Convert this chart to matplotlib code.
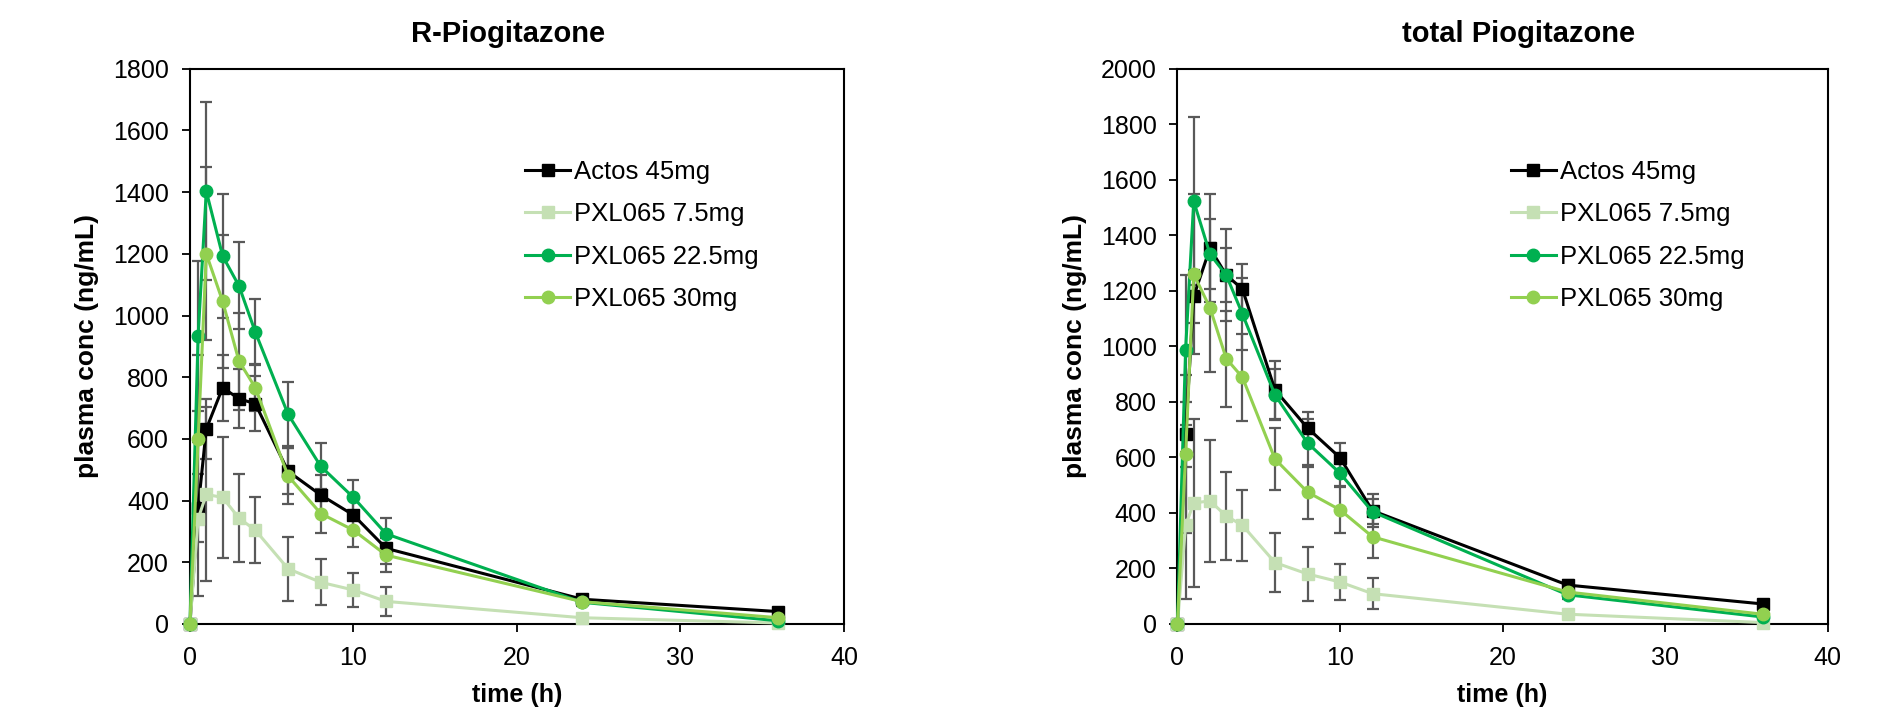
import numpy as np
import matplotlib
matplotlib.use("Agg")
import matplotlib.pyplot as plt

plt.rcParams['font.family'] = ['Liberation Sans', 'DejaVu Sans']

# sampling times (h)
time_h = [0, 0.5, 1, 2, 3, 4, 6, 8, 10, 12, 24, 36]

series_names = ["Actos 45mg", "PXL065 7.5mg", "PXL065 22.5mg", "PXL065 30mg"]

# R-Piogitazone, mean and sd (ng/mL)
r_actos = [0, 375, 632, 766, 730, 714, 495, 418, 353, 245, 80, 40]
r_actos_sd = [0, 110, 98, 107, 95, 90, 75, 64, 55, 50, 12, 8]
r_p75 = [0, 341, 420, 410, 343, 304, 179, 135, 110, 73, 20, 3]
r_p75_sd = [0, 249, 282, 196, 143, 106, 104, 75, 55, 48, 8, 2]
r_p225 = [0, 934, 1403, 1193, 1096, 946, 680, 511, 410, 292, 70, 10]
r_p225_sd = [0, 243, 288, 200, 141, 106, 103, 75, 58, 51, 12, 5]
r_p30 = [0, 598, 1200, 1046, 852, 766, 480, 358, 304, 223, 72, 20]
r_p30_sd = [0, 275, 280, 215, 157, 76, 90, 63, 55, 55, 12, 6]

# total Piogitazone, mean and sd (ng/mL)
t_actos = [0, 683, 1180, 1354, 1257, 1206, 843, 706, 599, 408, 140, 72]
t_actos_sd = [0, 118, 96, 195, 167, 92, 106, 57, 53, 60, 18, 10]
t_p75 = [0, 355, 436, 443, 389, 355, 221, 180, 151, 109, 35, 5]
t_p75_sd = [0, 265, 302, 220, 160, 129, 105, 96, 65, 55, 10, 3]
t_p225 = [0, 988, 1523, 1332, 1257, 1116, 825, 652, 543, 404, 105, 25]
t_p225_sd = [0, 270, 303, 127, 97, 129, 92, 88, 45, 45, 15, 8]
t_p30 = [0, 613, 1260, 1139, 956, 888, 594, 475, 411, 314, 115, 35]
t_p30_sd = [0, 285, 289, 232, 173, 157, 113, 97, 84, 77, 15, 8]

colors = ["#000000", "#C5E0B4", "#00B050", "#92D050"]
markers = ["s", "s", "o", "o"]

fig = plt.figure(figsize=(18.9, 7.09), dpi=100)
ax1 = fig.add_axes([0.1005, 0.12, 0.346, 0.783])
ax2 = fig.add_axes([0.623, 0.12, 0.344, 0.783])

panels = [
    (ax1, "R-Piogitazone", 0.486, [r_actos, r_p75, r_p225, r_p30],
     [r_actos_sd, r_p75_sd, r_p225_sd, r_p30_sd], 1800),
    (ax2, "total Piogitazone", 0.525, [t_actos, t_p75, t_p225, t_p30],
     [t_actos_sd, t_p75_sd, t_p225_sd, t_p30_sd], 2000),
]

for ax, title, tx, means, sds, ymax in panels:
    # error bars first so they sit behind the lines
    for m, s in zip(means, sds):
        ax.errorbar(time_h, m, yerr=s, fmt="none", ecolor="#595959",
                    elinewidth=1.6, capsize=4, capthick=1.6, zorder=1)
    for m, c, mk, name in zip(means, colors, markers, series_names):
        ax.plot(time_h, m, color=c, marker=mk, markersize=9, linewidth=2.2,
                label=name, zorder=3, clip_on=False)
    ax.set_xlim(0, 40)
    ax.set_ylim(0, ymax)
    ax.set_xticks([0, 10, 20, 30, 40])
    ax.set_yticks(np.arange(0, ymax + 1, 200))
    ax.tick_params(direction="out", length=6, width=1.3, labelsize=18,
                   top=False, right=False)
    ax.tick_params(axis="x", pad=10)
    ax.tick_params(axis="y", pad=9)
    for sp in ax.spines.values():
        sp.set_linewidth(1.5)
    ax.set_title(title, fontsize=21, fontweight="bold", pad=19.5, x=tx)
    ax.set_xlabel("time (h)", fontsize=18, fontweight="bold", labelpad=9)
    ax.set_ylabel("plasma conc (ng/mL)", fontsize=19, fontweight="bold", labelpad=10)
    ax.legend(loc="upper left", bbox_to_anchor=(0.497, 0.855), frameon=False,
              fontsize=18.5, handlelength=1.75, handletextpad=0.15,
              labelspacing=0.72, borderaxespad=0)

fig.savefig("out.png", dpi=100)
